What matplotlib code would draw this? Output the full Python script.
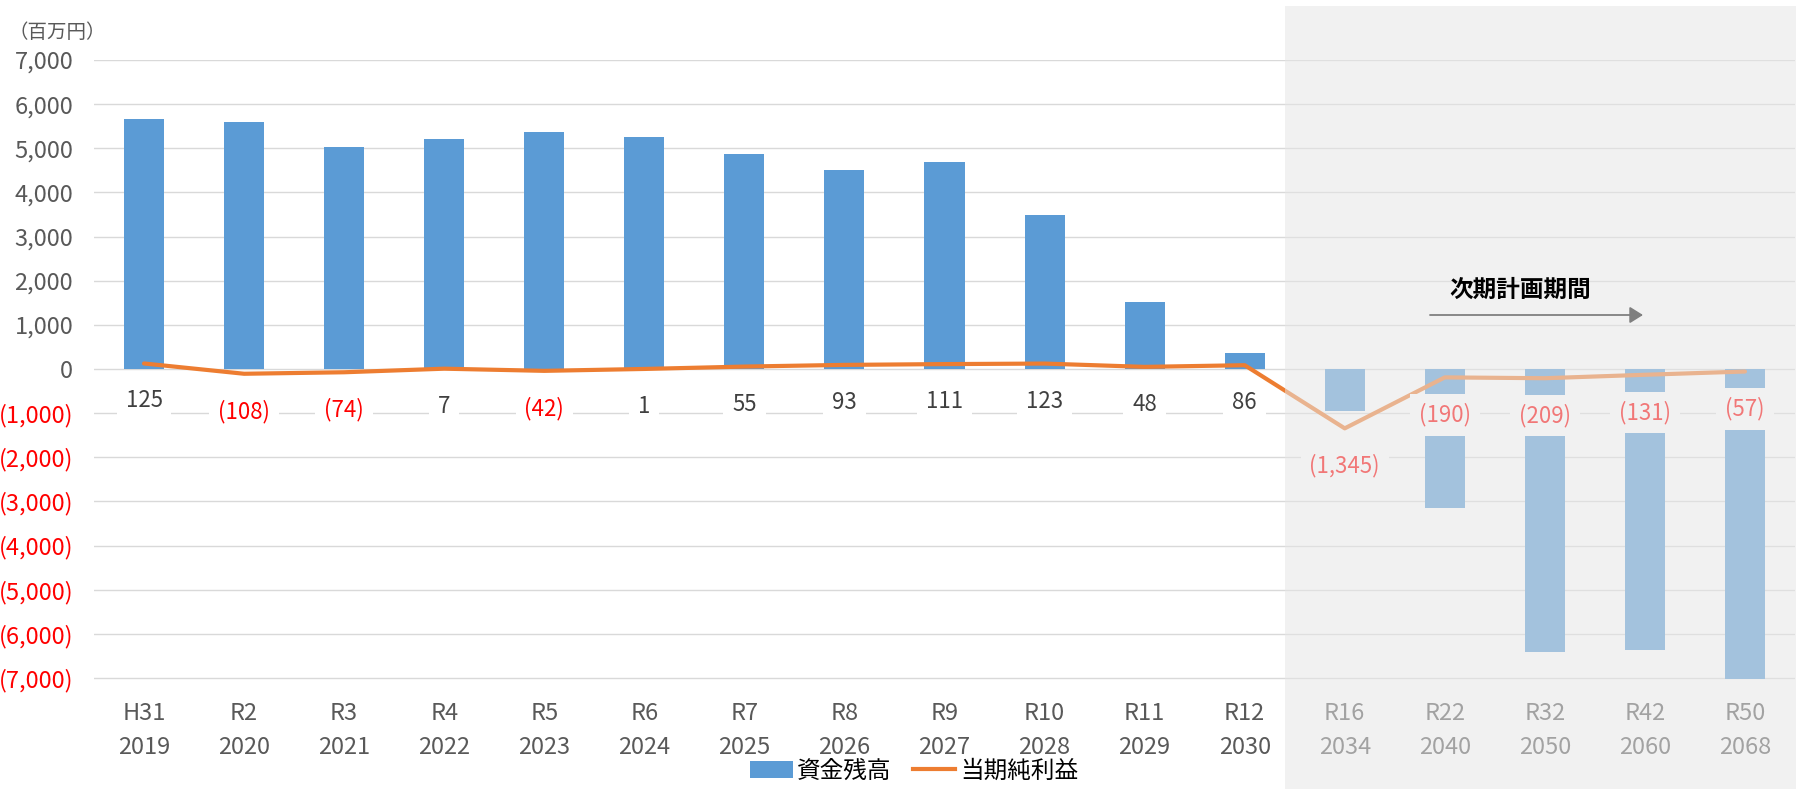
import matplotlib
matplotlib.use("Agg")
import matplotlib.pyplot as plt
from matplotlib.patches import Rectangle, Patch, FancyArrowPatch
from matplotlib.lines import Line2D

# ---- data (百万円) ----
wareki = ["H31", "R2", "R3", "R4", "R5", "R6", "R7", "R8", "R9", "R10",
          "R11", "R12", "R16", "R22", "R32", "R42", "R50"]
years = ["2019", "2020", "2021", "2022", "2023", "2024", "2025", "2026", "2027",
         "2028", "2029", "2030", "2034", "2040", "2050", "2060", "2068"]
fund_balance = [5660, 5600, 5030, 5200, 5380, 5250, 4860, 4500, 4680, 3490,
                1510, 360, -950, -3140, -6400, -6360, -7020]
net_income = [125, -108, -74, 7, -42, 1, 55, 93, 111, 123,
              48, 86, -1345, -190, -209, -131, -57]
y_ticks = list(range(-7000, 7001, 1000))

LATIN = ["Liberation Sans Narrow", "Noto Sans CJK JP", "DejaVu Sans"]
CJK = ["Noto Sans CJK JP", "DejaVu Sans"]
plt.rcParams["font.family"] = LATIN

BLUE = "#5B9BD5"
ORANGE = "#ED7D31"
GREY_TXT = "#595959"
RED = "#FF0000"


def fmt(v):
    return f"{v:,}" if v >= 0 else f"({-v:,})"


W, H = 1796, 789
fig = plt.figure(figsize=(W / 100, H / 100), dpi=100)
ax_left, ax_right, ax_top, ax_bottom = 94, 1795, 60, 680.2
ax = fig.add_axes([ax_left / W, 1 - ax_bottom / H,
                   (ax_right - ax_left) / W, (ax_bottom - ax_top) / H])

x = list(range(len(wareki)))
ax.bar(x, fund_balance, width=0.4, color=BLUE, zorder=2)
ax.plot(x, net_income, color=ORANGE, lw=3, solid_joinstyle="round",
        solid_capstyle="round", zorder=3)

for xi, v in zip(x, net_income):
    ax.annotate(fmt(v), xy=(xi, v), xytext=(0, -27), textcoords="offset points",
                ha="center", va="center", fontsize=16,
                color="#404040" if v >= 0 else RED,
                bbox=dict(boxstyle="square,pad=0.4", fc="white", ec="none"),
                zorder=4)

ax.set_xlim(-0.5, len(wareki) - 0.5)
ax.set_ylim(-7050, 7000)
ax.set_yticks(y_ticks)
ax.set_yticklabels([fmt(v) for v in y_ticks])
for lbl, v in zip(ax.get_yticklabels(), y_ticks):
    lbl.set_color(GREY_TXT if v >= 0 else RED)
ax.set_xticks(x)
ax.set_xticklabels([f"{a}\n{b}" for a, b in zip(wareki, years)],
                   linespacing=1.6, color=GREY_TXT)
ax.tick_params(axis="both", length=0, labelsize=17)
ax.tick_params(axis="y", pad=15)
ax.tick_params(axis="x", pad=16)
ax.grid(axis="y", color="#D9D9D9", lw=1.0, zorder=0)
ax.set_axisbelow(True)
for s in ax.spines.values():
    s.set_visible(False)

fig.text(8 / W, 1 - 33 / H, "（百万円）", family=CJK, fontsize=14,
         color=GREY_TXT, ha="left", va="center")

# long-term projection band
fig.add_artist(Rectangle((1285 / W, 0), (W - 1285) / W, (H - 6) / H,
                         transform=fig.transFigure, facecolor="#E6E6E6",
                         alpha=0.52, edgecolor="none", zorder=5))

fig.add_artist(FancyArrowPatch((1430 / W, 1 - 315 / H), (1643 / W, 1 - 315 / H),
                               transform=fig.transFigure,
                               arrowstyle="-|>,head_length=8,head_width=5",
                               mutation_scale=1, color="#7F7F7F", lw=1.3,
                               shrinkA=0, shrinkB=0, zorder=7))
fig.text(1520 / W, 1 - 290 / H, "次期計画期間", family=CJK, fontsize=17,
         fontweight="bold", color="black", ha="center", va="center", zorder=7)

handles = [Patch(facecolor=BLUE, edgecolor="none"),
           Line2D([0], [0], color=ORANGE, lw=3)]
fig.legend(handles, ["資金残高", "当期純利益"], loc="center",
           bbox_to_anchor=(0.509, 1 - 771 / H), ncol=2, frameon=False,
           prop={"family": CJK, "size": 17}, handlelength=1.8,
           handletextpad=0.2, columnspacing=0.9, borderaxespad=0)

fig.savefig("out.png", dpi=100)
